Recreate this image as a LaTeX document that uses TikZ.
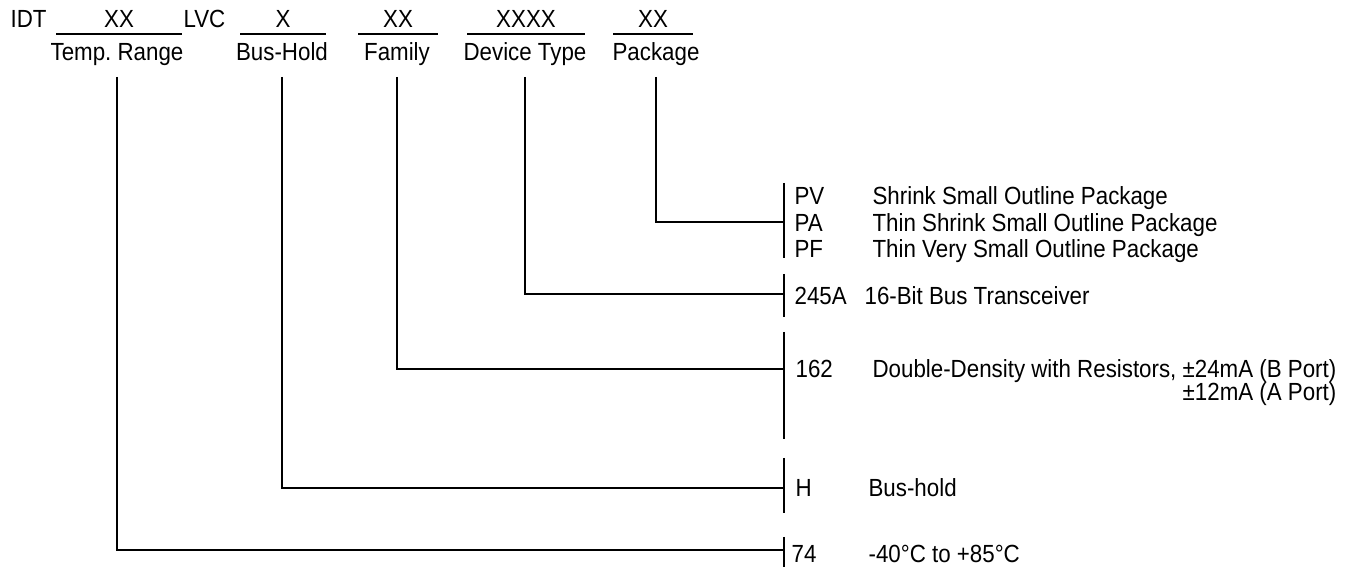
\documentclass[tikz,border=0pt]{standalone}
\usepackage{fontspec}
\setmainfont{Liberation Sans}[FakeStretch=0.9]
\usetikzlibrary{calc,positioning}
\frenchspacing

\begin{document}
\begin{tikzpicture}[x=0.5pt, y=-0.5pt, line width=0.6pt,
    every node/.style={inner sep=0pt, font=\fontsize{12.4}{14}\selectfont},
    field/.style={anchor=base},
    code/.style={anchor=base west},
    desc/.style={anchor=base west}]
    \useasboundingbox (0,0) rectangle (1362,571);

    % part number
    \node[code] (idt) at (10,28) {IDT};
    \node[field] (xtemp) at (119,28) {XX};
    \node[code] (lvc) at (183,28) {LVC};
    \node[field] (xhold) at (283,28) {X};
    \node[field] (xfam) at (398,28) {XX};
    \node[field] (xdev) at (526,28) {XXXX};
    \node[field] (xpkg) at (653,28) {XX};

    \foreach \a/\b in {56/182, 240/326, 358/438, 467/585, 613/693}
        \draw (\a,34) -- (\b,34);

    \node[field] (temp) at (117,61) {Temp. Range};
    \node[field] (hold) at (282,61) {Bus-Hold};
    \node[field] (fam) at (397,61) {Family};
    \node[field] (dev) at (525,61) {Device Type};
    \node[field] (pkg) at (656,61) {Package};

    % junctions on the brackets
    \coordinate (jpkg) at (784,222);
    \coordinate (jdev) at (784,294);
    \coordinate (jfam) at (784,369);
    \coordinate (jhold) at (784,488);
    \coordinate (jtemp) at (784,550);

    \draw (pkg.base) ++(0,16) |- (jpkg);
    \draw (dev.base) ++(0,16) |- (jdev);
    \draw (fam.base) ++(0,16) |- (jfam);
    \draw (hold.base) ++(0,16) |- (jhold);
    \draw (temp.base) ++(0,16) |- (jtemp);

    \foreach \t/\b in {183/258, 274/317, 332/439, 458/513, 537/567}
        \draw (784,\t) -- (784,\b);

    % options
    \node[code] (pv) at (794,205) {PV};
    \node[code] (pa) at (794,232) {PA};
    \node[code] (pf) at (794,258) {PF};
    \node[desc] (dpv) at (872,205) {Shrink Small Outline Package};
    \node[desc] (dpa) at (872,232) {Thin Shrink Small Outline Package};
    \node[desc] (dpf) at (872,258) {Thin Very Small Outline Package};

    \node[code] (d245) at (794,305) {245A};
    \node[desc] (t245) at (864,305) {16-Bit Bus Transceiver};

    \node[code] (d162) at (795,378) {162};
    \node[desc] (t162) at (872,378) {Double-Density with Resistors, ±24mA (B Port)};
    \node[anchor=base east] (t162b) at ([yshift=-11.5pt]t162.base east) {±12mA (A Port)};

    \node[code] (dh) at (795,497) {H};
    \node[desc] (th) at (868,497) {Bus-hold};

    \node[code] (d74) at (791,563) {74};
    \node[desc] (t74) at (868,563) {-40°C to +85°C};
\end{tikzpicture}
\end{document}
